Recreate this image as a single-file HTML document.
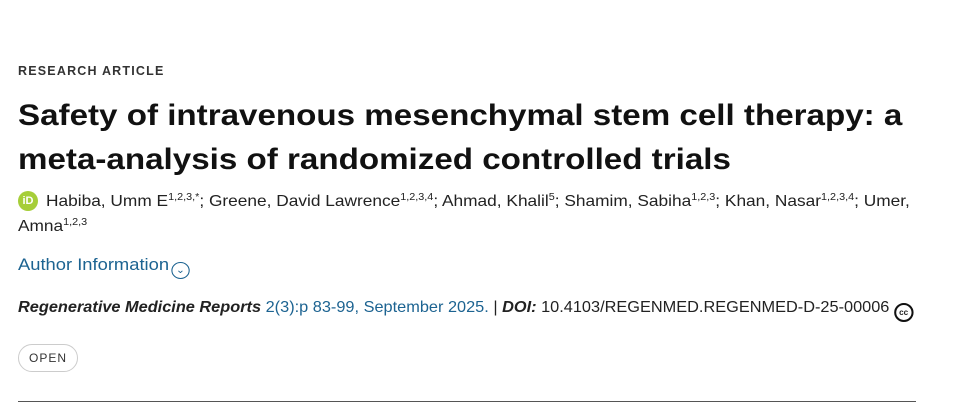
<!DOCTYPE html>
<html><head><style>
body{margin:0;width:957px;height:413px;background:#fff;font-family:"Liberation Sans",sans-serif;color:#222;position:relative;overflow:hidden}
.a{position:absolute;white-space:nowrap;left:18px;transform-origin:0 50%}
sup{font-size:10px;vertical-align:6px;line-height:0}
.blue{color:#1c6391}
.t{font-size:30px;font-weight:bold;line-height:36px;color:#111}
</style></head><body>
<div class="a" style="top:64px;font-size:12.5px;font-weight:bold;letter-spacing:1.2px;color:#333">RESEARCH ARTICLE</div>
<div class="a t" style="top:98px;transform:scaleX(1.105)">Safety of intravenous mesenchymal stem cell therapy: a</div>
<div class="a t" style="top:142px;transform:scaleX(1.105)">meta-analysis of randomized controlled trials</div>
<div class="a" style="top:191px;width:20px;height:20px;border-radius:50%;background:#a6ce39;color:#fff;font-size:11px;font-weight:bold;text-align:center;line-height:20px">iD</div>
<div class="a" style="left:46px;top:189px;font-size:16px;line-height:25px;transform:scaleX(1.081)">Habiba, Umm E<sup>1,2,3,*</sup>; Greene, David Lawrence<sup>1,2,3,4</sup>; Ahmad, Khalil<sup>5</sup>; Shamim, Sabiha<sup>1,2,3</sup>; Khan, Nasar<sup>1,2,3,4</sup>; Umer,</div>
<div class="a" style="top:214px;font-size:16px;line-height:25px;transform:scaleX(1.08)">Amna<sup>1,2,3</sup></div>
<div class="a blue" style="top:254px;font-size:17px;line-height:22px;transform:scaleX(1.08)">Author Information<span style="display:inline-block;width:15px;height:15px;border:1.5px solid #1c6391;border-radius:50%;vertical-align:-3px;margin-left:2px;font-size:10px;line-height:15px;text-align:center">&#8964;</span></div>
<div class="a" style="top:297px;font-size:16px;line-height:22px;transform:scaleX(1.02)"><b><i>Regenerative Medicine Reports</i></b> <span class="blue">2(3):p 83-99, September 2025.</span> | <b><i>DOI:</i></b> 10.4103/REGENMED.REGENMED-D-25-00006 <span style="display:inline-block;width:15px;height:15px;border:2px solid #111;border-radius:50%;font-size:8px;font-weight:bold;line-height:15px;text-align:center;vertical-align:-3px">cc</span></div>
<div class="a" style="top:344px;width:58px;height:26px;border:1px solid #ccc;border-radius:14px;font-size:12px;letter-spacing:1px;text-align:center;line-height:26px;color:#333">OPEN</div>
<div style="position:absolute;left:18px;top:401px;width:898px;height:1px;background:#555"></div>
</body></html>
